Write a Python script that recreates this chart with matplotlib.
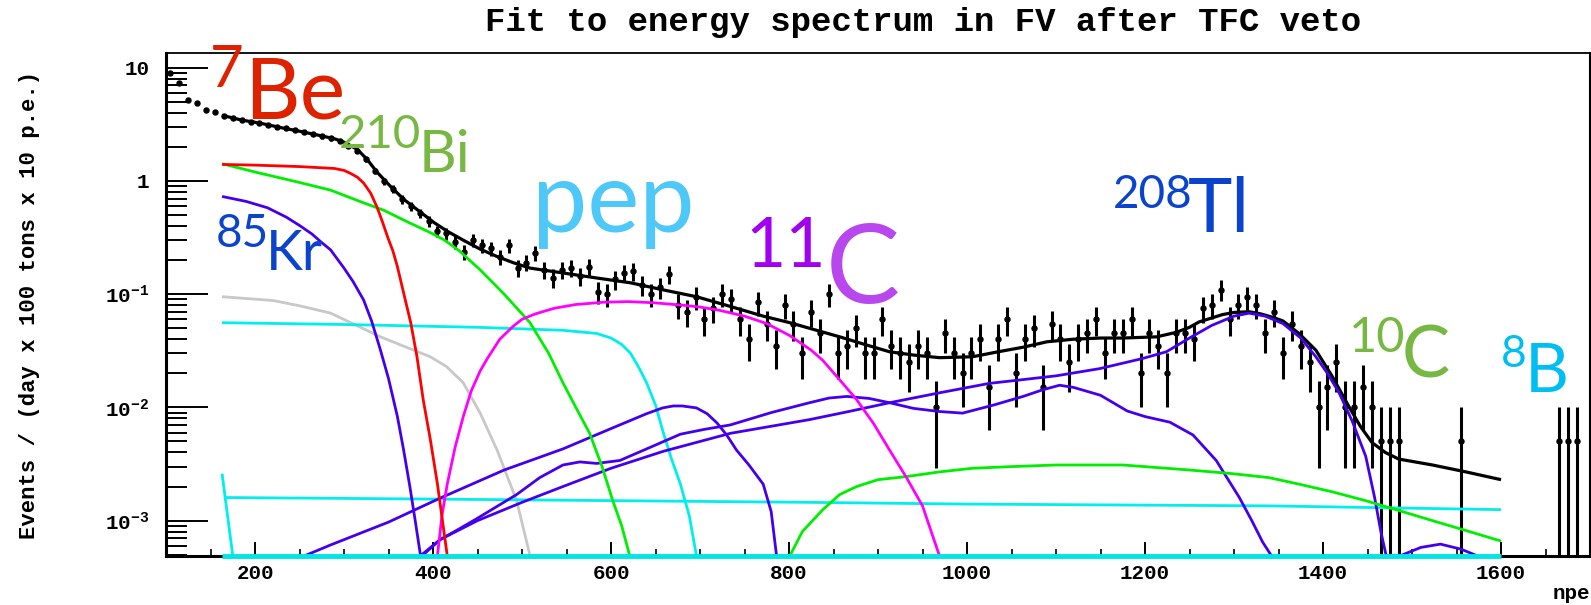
import numpy as np
import matplotlib
matplotlib.use("Agg")
import matplotlib.pyplot as plt
from matplotlib.ticker import FixedLocator, FixedFormatter, MultipleLocator, LogLocator, NullFormatter

plt.rcParams['font.family'] = ['Liberation Mono', 'DejaVu Sans']
plt.rcParams['font.weight'] = 'bold'
plt.rcParams['mathtext.fontset'] = 'custom'
plt.rcParams['mathtext.rm'] = 'Liberation Mono:bold'
plt.rcParams['mathtext.it'] = 'Liberation Mono:bold'
plt.rcParams['mathtext.bf'] = 'Liberation Mono:bold'

# ---------------- data ----------------
# histogram bins of 10 p.e. (centres 105 ... 1695) and event counts per bin
bin_centers = list(range(105, 1700, 10))
counts = [
    1800, 1460, 1040, 980, 850, 810, 750, 720, 690, 670,        # 105-195
    650, 624, 600, 584, 560, 540, 520, 496, 476, 450,           # 205-295
    410, 370, 310, 244, 200, 170, 138, 120, 104, 88,            # 305-395
    72, 69, 58, 47, 60, 54, 51, 43, 54, 34,                     # 405-495
    38, 46, 33, 28, 33, 34, 29, 35, 21, 20,                     # 505-595
    27, 31, 32, 24, 20, 23, 30, 16, 14, 19,                     # 605-695
    12, 15, 20, 18, 12, 8, 17, 11, 7, 16,                       # 705-795
    11, 6, 14, 9, 20, 6, 7, 10, 6, 6,                           # 805-895
    12, 7, 6, 5, 7, 6, 2, 9, 6, 4,                              # 905-995
    6, 8, 3, 8, 12, 4, 8, 10, 3, 11,                            # 1005-1095
    8, 5, 8, 9, 12, 6, 9, 9, 12, 4,                             # 1105-1195
    9, 7, 4, 9, 9, 8, 15, 16, 22, 12,                           # 1205-1295
    16, 19, 16, 9, 14, 6, 11, 7, 5, 2,                          # 1305-1395
    3, 5, 2, 2, 3, 2, 1, 1, 1, 0,                               # 1405-1495
    0, 0, 0, 0, 0, 1, 0, 0, 0, 0,                               # 1505-1595
    0, 0, 0, 0, 0, 0, 1, 1, 1, 0,                               # 1605-1695
]
EVENTS_PER_COUNT = 0.005

# total fit
fit_x = [163, 185, 205, 230, 250, 275, 290, 300, 315, 326, 337, 352, 367, 382, 401,
         416, 434, 453, 472, 490, 509, 546, 584, 622, 659, 696, 734, 771, 801, 823,
         857, 885, 913, 940, 969, 1006, 1035, 1063, 1090, 1119, 1150, 1175, 1213,
         1235, 1250, 1261, 1287, 1300, 1317, 1330, 1345, 1355, 1373, 1392, 1410,
         1429, 1442, 1455, 1470, 1485, 1523, 1560, 1600]
fit_y = [3.8, 3.45, 3.25, 2.95, 2.75, 2.5, 2.35, 2.2, 1.9, 1.55, 1.2, 0.9, 0.69, 0.56, 0.43,
         0.36, 0.30, 0.25, 0.215, 0.19, 0.17, 0.154, 0.139, 0.126, 0.109, 0.095, 0.078, 0.064, 0.056, 0.050,
         0.042, 0.036, 0.031, 0.029, 0.0275, 0.028, 0.031, 0.034, 0.038, 0.040, 0.041, 0.041, 0.042,
         0.046, 0.051, 0.057, 0.066, 0.069, 0.070, 0.067, 0.062, 0.058, 0.045, 0.032, 0.019,
         0.0102, 0.0068, 0.0049, 0.0040, 0.0035, 0.0031, 0.0027, 0.0023]

# 7Be (red)
be7_x = [163, 200, 250, 289, 300, 307, 315, 322, 330, 337, 343, 349, 355, 360, 368,
         375, 382, 389, 397, 405, 411, 416]
be7_y = [1.40, 1.38, 1.34, 1.29, 1.24, 1.17, 1.08, 0.96, 0.78, 0.59, 0.44, 0.32, 0.24, 0.175, 0.095,
         0.056, 0.028, 0.0117, 0.0052, 0.0021, 0.00095, 0.00049]

# 210Bi (green)
bi210_x = [163, 200, 250, 285, 320, 345, 370, 397, 413, 430, 453, 480, 509, 530, 546,
           562, 576, 590, 602, 612, 621]
bi210_y = [1.42, 1.2, 0.97, 0.83, 0.65, 0.55, 0.44, 0.35, 0.30, 0.24, 0.164, 0.10, 0.056, 0.030, 0.0165,
           0.0095, 0.0059, 0.0030, 0.0015, 0.0009, 0.00049]

# 85Kr (blue)
kr85_x = [163, 190, 214, 235, 251, 264, 274, 285, 300, 310, 322, 331, 341, 350, 360, 367, 374, 380, 386]
kr85_y = [0.73, 0.66, 0.58, 0.48, 0.40, 0.34, 0.29, 0.246, 0.17, 0.13, 0.089, 0.058, 0.032, 0.018,
          0.0083, 0.0042, 0.0020, 0.0010, 0.00049]

# grey component
grey_x = [163, 220, 250, 285, 341, 370, 397, 415, 434, 453, 472, 494, 509]
grey_y = [0.095, 0.088, 0.079, 0.068, 0.042, 0.034, 0.028, 0.023, 0.0165, 0.0089, 0.0042, 0.0015, 0.00049]

# pep (cyan)
pep_x = [163, 300, 450, 546, 584, 600, 612, 622, 632, 640, 650, 659, 668, 678, 688, 696]
pep_y = [0.056, 0.054, 0.051, 0.048, 0.045, 0.041, 0.036, 0.030, 0.022, 0.0165, 0.0105, 0.0059, 0.0035,
         0.0021, 0.0011, 0.00049]

# 8B (cyan, flat) and its low-energy edge
b8_x = [165, 400, 823, 1000, 1339, 1600]
b8_y = [0.0016, 0.00155, 0.00145, 0.0014, 0.00135, 0.00125]
b8edge_x = [163, 175]
b8edge_y = [0.0026, 0.00049]

# null component drawn on the frame bottom (cyan)
null_x = [163, 1600]
null_y = [0.0, 0.0]

# 11C (magenta)
c11_x = [405, 410, 416, 425, 434, 443, 453, 461, 475, 490, 500, 515, 536, 560, 592, 620,
         648, 680, 700, 722, 750, 775, 801, 825, 838, 857, 876, 895, 913, 932, 950, 969]
c11_y = [0.00049, 0.0011, 0.0021, 0.0045, 0.0083, 0.014, 0.021, 0.027, 0.040, 0.052, 0.060, 0.067,
         0.075, 0.081, 0.085, 0.086, 0.084, 0.080, 0.077, 0.072, 0.064, 0.055, 0.043, 0.032, 0.026,
         0.0175, 0.0117, 0.0072, 0.0042, 0.0024, 0.00135, 0.00049]

# blue components
blueA_x = [256, 285, 350, 408, 480, 546, 600, 640, 658, 670, 680, 696, 708, 719, 730, 741,
           755, 771, 780, 786]
blueA_y = [0.00049, 0.00061, 0.00097, 0.00158, 0.0028, 0.0043, 0.0065, 0.0088, 0.0099, 0.0103,
           0.0103, 0.0099, 0.0088, 0.0073, 0.0057, 0.0042, 0.0031, 0.0021, 0.0012, 0.00049]

blueB_x = [388, 408, 430, 450, 494, 520, 546, 565, 584, 610, 640, 678, 705, 734, 780, 823,
           845, 865, 890, 913, 940, 969, 995, 1030, 1063, 1085, 1104, 1120, 1150, 1180, 1200,
           1228, 1254, 1280, 1306, 1320, 1332, 1342]
blueB_y = [0.00049, 0.00068, 0.00085, 0.00105, 0.0017, 0.0024, 0.0031, 0.0033, 0.0032, 0.0034,
           0.0043, 0.0058, 0.0064, 0.0070, 0.0090, 0.011, 0.0121, 0.0125, 0.0120, 0.0110, 0.0098,
           0.0092, 0.0089, 0.0105, 0.0125, 0.0143, 0.0157, 0.0150, 0.0128, 0.0093, 0.0083, 0.0074,
           0.0057, 0.0034, 0.0016, 0.0010, 0.00065, 0.00049]

tl208_x = [386, 408, 450, 500, 546, 600, 659, 734, 823, 870, 913, 970, 1025, 1060, 1100,
           1149, 1197, 1224, 1250, 1275, 1300, 1317, 1335, 1355, 1375, 1392, 1405, 1418,
           1433, 1448, 1458, 1465, 1471, 1480, 1487, 1510, 1532, 1555, 1573]
tl208_y = [0.00049, 0.00068, 0.0010, 0.00145, 0.0020, 0.0029, 0.0041, 0.0059, 0.0078, 0.0093,
           0.011, 0.0135, 0.0163, 0.0175, 0.019, 0.022, 0.027, 0.031, 0.041, 0.053, 0.064, 0.068,
           0.064, 0.055, 0.041, 0.028, 0.020, 0.0135, 0.0075, 0.0037, 0.0016, 0.0008, 0.00049,
           0.0, 0.00049, 0.00058, 0.00062, 0.00056, 0.00049]

# 10C (green)
c10_x = [801, 815, 838, 857, 876, 900, 932, 970, 1006, 1050, 1100, 1175, 1250, 1298, 1339,
         1373, 1410, 1448, 1485, 1523, 1560, 1600]
c10_y = [0.00049, 0.0008, 0.00125, 0.0017, 0.0020, 0.0023, 0.00245, 0.0027, 0.0029, 0.0030,
         0.0031, 0.0031, 0.0028, 0.0026, 0.0024, 0.0021, 0.0018, 0.0015, 0.00123, 0.0010,
         0.00082, 0.00066]

x_tick_values = [200, 400, 600, 800, 1000, 1200, 1400, 1600]
y_tick_values = [1e-3, 1e-2, 1e-1, 1, 10]
y_tick_labels = [r'$\mathregular{10^{-3}}$', r'$\mathregular{10^{-2}}$', r'$\mathregular{10^{-1}}$', '1', '10']

XMIN, XMAX = 100, 1700
YMIN, YMAX = 4.9e-4, 13.5

# ---------------- figure ----------------
W, H = 1591, 605
fig = plt.figure(figsize=(W / 100, H / 100), dpi=100)
ax = fig.add_axes([166 / W, (H - 555.7) / H, (1590 - 166) / W, (555.7 - 53) / H])
ax.set_yscale('log')
ax.set_xlim(XMIN, XMAX)
ax.set_ylim(YMIN, YMAX)

# data points
xc = np.array(bin_centers, dtype=float)
cnt = np.array(counts, dtype=float)
m = cnt > 0
vals = cnt[m] * EVENTS_PER_COUNT
errs = np.sqrt(cnt[m]) * EVENTS_PER_COUNT
lower = np.minimum(errs, vals * (1 - 1e-6))
ax.errorbar(xc[m], vals, yerr=[lower, errs], fmt='o', ms=3.6, color='black',
            ecolor='black', elinewidth=2.2, capsize=0, zorder=2)

def curve(xs, ys, color, lw=2.0, z=3, clip=True):
    y = np.maximum(np.array(ys, dtype=float), YMIN)
    ax.plot(xs, y, color=color, lw=lw, zorder=z, clip_on=clip, solid_capstyle='butt',
            solid_joinstyle='round')

curve(fit_x, fit_y, 'black', lw=2.3, z=3)
curve(grey_x, grey_y, '#c8c8c8')
curve(b8_x, b8_y, '#00eeee')
curve(b8edge_x, b8edge_y, '#00eeee')
curve(pep_x, pep_y, '#00eeee')
curve(kr85_x, kr85_y, '#4400ee')
curve(blueA_x, blueA_y, '#4400ee')
curve(blueB_x, blueB_y, '#4400ee')
curve(tl208_x, tl208_y, '#4400ee')
curve(bi210_x, bi210_y, '#00ee00')
curve(c10_x, c10_y, '#00ee00')
curve(c11_x, c11_y, '#ff00ff')
curve(be7_x, be7_y, '#ff0000')
curve(null_x, null_y, '#00e5e5', lw=3.5, z=5, clip=False)

# axes styling (ROOT-like)
for side, lw in [('left', 2.2), ('bottom', 2.2), ('top', 1.3), ('right', 1.5)]:
    ax.spines[side].set_linewidth(lw)
    ax.spines[side].set_color('black')

ax.xaxis.set_major_locator(FixedLocator(x_tick_values))
ax.xaxis.set_minor_locator(MultipleLocator(50))
ax.yaxis.set_major_locator(FixedLocator(y_tick_values))
ax.yaxis.set_major_formatter(FixedFormatter(y_tick_labels))
ax.yaxis.set_minor_locator(LogLocator(base=10, subs=np.arange(2, 10), numticks=30))
ax.yaxis.set_minor_formatter(NullFormatter())

ax.tick_params(axis='x', which='major', direction='in', length=10, width=1.4,
               top=False, bottom=True, labelsize=15, pad=6)
ax.tick_params(axis='x', which='minor', direction='in', length=5, width=1.2, top=False, bottom=True)
ax.tick_params(axis='y', which='major', direction='in', length=30, width=1.4,
               left=True, right=False, labelsize=15, pad=12)
ax.tick_params(axis='y', which='minor', direction='in', length=15, width=1.4, left=True, right=False)

# titles
fig.text(923 / W, 1 - 23 / H, 'Fit to energy spectrum in FV after TFC veto',
         ha='center', va='center', fontsize=24.5, fontweight='bold', family='Liberation Mono')
fig.text(30 / W, 1 - 305 / H, 'Events / (day x 100 tons x 10 p.e.)', rotation=90,
         ha='center', va='center', fontsize=16, fontweight='bold', family='Liberation Mono')
fig.text(1590 / W, 1 - 599 / H, 'npe', ha='right', va='baseline',
         fontsize=15, fontweight='bold', family='Liberation Mono')

# isotope annotations: superscript right-aligned against the element symbol
def label(xpx, ybase, s, size, color, ha='left'):
    fig.text(xpx / W, 1 - ybase / H, s, ha=ha, va='baseline', fontsize=size,
             color=color, family='Lato', fontweight='normal', zorder=10)

label(244, 87, '7', 42, '#dd2200', ha='right')
label(244, 118.5, 'Be', 62, '#dd2200')
label(421, 148, '210', 34, '#77b843', ha='right')
label(419, 171.5, 'Bi', 42, '#77b843')
label(269, 247, '85', 33, '#0a44cc', ha='right')
label(266, 270, 'Kr', 40, '#0a44cc')
label(532, 231.7, 'pep', 71, '#4dc8f8')
label(826, 266.7, '11', 50, '#a000ee', ha='right')
label(826, 303, 'C', 80, '#b848ee')
label(1193, 208, '208', 33, '#0a44cc', ha='right')
label(1188, 231.7, 'Tl', 54, '#0a44cc')
label(1405, 352, '10', 35, '#77b843', ha='right')
label(1402, 377, 'C', 52, '#77b843')
label(1527, 367, '8', 32, '#00bdf2', ha='right')
label(1525, 392, 'B', 49, '#00bdf2')

fig.savefig('out.png', dpi=100)
